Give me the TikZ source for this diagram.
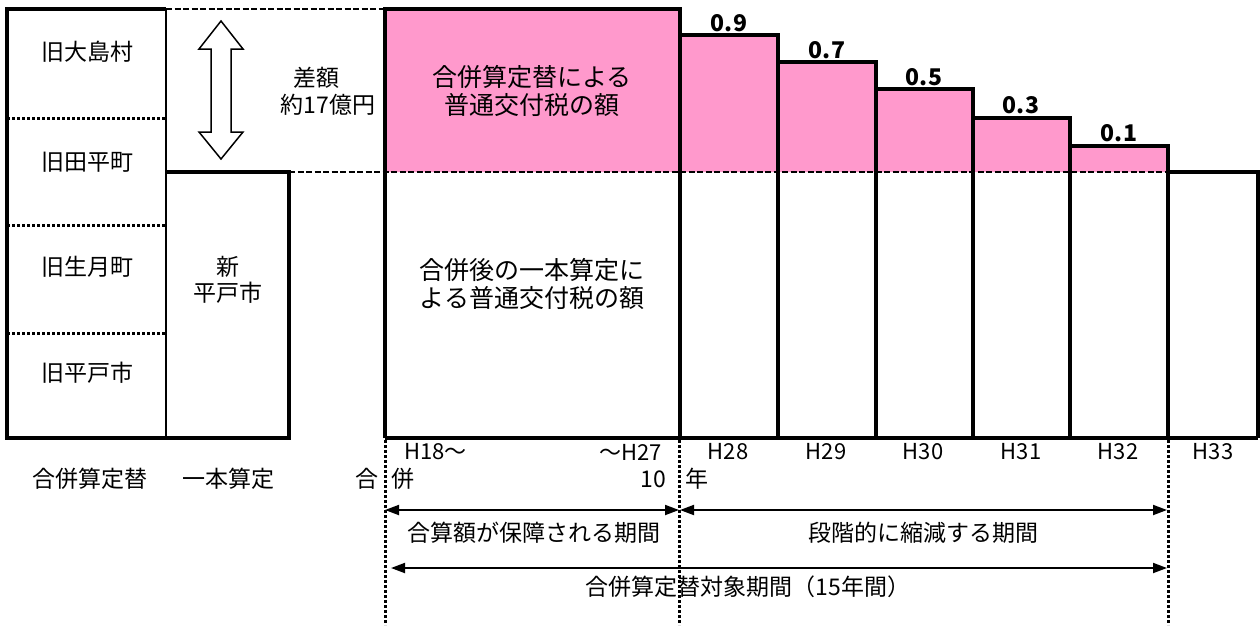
\documentclass[tikz,border=0pt]{standalone}
\usepackage{fontspec}
\setmainfont{Noto Sans CJK JP}
\usetikzlibrary{arrows.meta}
\definecolor{pinkfill}{HTML}{FF99CC}
\begin{document}
\begin{tikzpicture}[x=1pt,y=-1pt,
  thickline/.style={line width=3.2pt, line join=miter},
  thinline/.style={line width=2.2pt},
  dashline/.style={line width=2.2pt, dash pattern=on 6pt off 2.5pt},
  dotline/.style={line width=3pt, dash pattern=on 3pt off 2pt},
  lbl/.style={font=\fontsize{23}{27}\selectfont, inner sep=0pt, align=center},
  big/.style={font=\fontsize{25}{28}\selectfont, inner sep=0pt, align=center},
  yr/.style={font=\fontsize{22}{26}\selectfont, inner sep=0pt},
  val/.style={font=\bfseries\fontsize{23}{26}\selectfont, inner sep=0pt},
  spanarrow/.style={line width=1.9pt, {Triangle[length=14pt,width=10pt]}-{Triangle[length=14pt,width=10pt]}}]
\useasboundingbox (0,0) rectangle (1260,625);
\fill[white] (0,0) rectangle (1260,625);

% pink area (difference)
\fill[pinkfill] (385,9) -| (680,35) -| (778,62) -| (876,89) -| (973,118) -| (1070,146) -| (1168,172) -- (385,172) -- cycle;

% dashed guides
\draw[dashline] (166,9) -- (385,9);
\draw[dashline] (289,172) -- (1168,172);

% left stacked boxes
\draw[dotline] (7,118) -- (166,118);
\draw[dotline] (7,225) -- (166,225);
\draw[dotline] (7,333) -- (166,333);
\draw[thinline] (166,9) -- (166,438);
\draw[thickline] (166,9) -- (7,9) -- (7,438) -- (289,438) -- (289,172) -- (166,172);

% main chart
\draw[thickline] (385,438) -- (385,9) -- (680,9) -- (680,438);
\draw[thickline] (680,35) -| (778,438);
\draw[thickline] (778,62) -| (876,438);
\draw[thickline] (876,89) -| (973,438);
\draw[thickline] (973,118) -| (1070,438);
\draw[thickline] (1070,146) -| (1168,438);
\draw[thickline] (1168,172) -| (1258,438);
\draw[thickline] (385,438) -- (1258,438);

% hollow double arrow
\draw[line width=1.5pt, fill=white] (221,21) -- (243,49) -- (231,49) -- (231,132) -- (243,132) -- (221,159) -- (199,132) -- (211,132) -- (211,49) -- (199,49) -- cycle;

% vertical dotted period markers
\coordinate (m0t) at (385,440); \coordinate (m0b) at (385,625);
\coordinate (m1t) at (679,440); \coordinate (m1b) at (679,625);
\coordinate (m2t) at (1168,440); \coordinate (m2b) at (1168,625);
\draw[dotline] (m0t) -- (m0b);
\draw[dotline] (m1t) -- (m1b);
\draw[dotline] (m2t) -- (m2b);

% period arrows
\coordinate (a1l) at (385,510); \coordinate (a1r) at (679,510);
\coordinate (a2l) at (680,510); \coordinate (a2r) at (1167,510);
\coordinate (a3l) at (391,568); \coordinate (a3r) at (1167,568);
\draw[spanarrow] (a1l) -- (a1r);
\draw[spanarrow] (a2l) -- (a2r);
\draw[spanarrow] (a3l) -- (a3r);

% left labels
\node[lbl] (oshima) at (87,52) {旧大島村};
\node[lbl] (tabira) at (87,162) {旧田平町};
\node[lbl] (ikitsuki) at (87,267) {旧生月町};
\node[lbl] (hiradoold) at (87,373) {旧平戸市};
\node[lbl] (shin) at (228,267) {新};
\node[lbl] (shinhirado) at (228,293) {平戸市};
\node[lbl] (sagaku) at (316,78) {差額};
\node[lbl] (yaku) at (328,105) {約17億円};

% box texts
\node[big] (gappeitext) at (532,91) {合併算定替による\\普通交付税の額};
\node[big] (ippontext) at (532,283.5) {合併後の一本算定に\\よる普通交付税の額};

% step values
\node[val] (v9) at (729,23) {0.9};
\node[val] (v7) at (827,50) {0.7};
\node[val] (v5) at (924,77) {0.5};
\node[val] (v3) at (1021,105) {0.3};
\node[val] (v1) at (1119,133) {0.1};

% year labels
\node[yr, anchor=west] (h18) at (404,452) {H18～};
\node[yr, anchor=east] (h27) at (662,452) {～H27};
\node[yr] (h28) at (728,452) {H28};
\node[yr] (h29) at (826,452) {H29};
\node[yr] (h30) at (923,452) {H30};
\node[yr] (h31) at (1021,452) {H31};
\node[yr] (h32) at (1118,452) {H32};
\node[yr] (h33) at (1213,452) {H33};

% second row
\node[lbl] (gappeisantei) at (90,479) {合併算定替};
\node[lbl] (ippon) at (228,479) {一本算定};
\node[lbl, anchor=east] (go) at (379,479) {合};
\node[lbl, anchor=west] (hei) at (391,479) {併};
\node[lbl, anchor=east] (ten) at (666,479) {10};
\node[lbl, anchor=west] (nen) at (685,479) {年};

% period labels
\node[lbl] (hosho) at (534,533) {合算額が保障される期間};
\node[lbl] (shukugen) at (923,533) {段階的に縮減する期間};
\node[lbl] (taisho) at (748,587) {合併算定替対象期間（15年間）};
\end{tikzpicture}
\end{document}
